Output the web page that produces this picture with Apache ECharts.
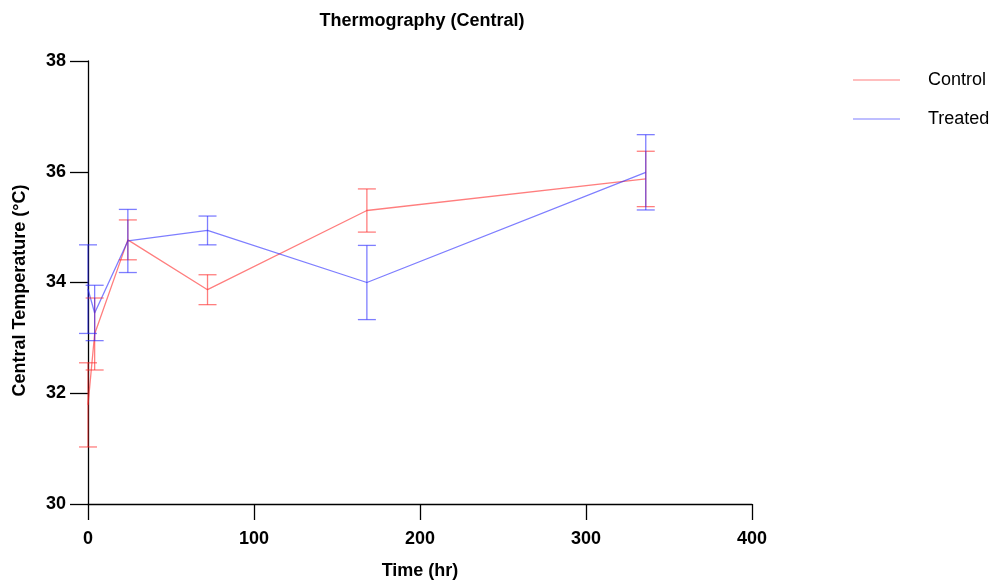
<!DOCTYPE html>
<html>
<head>
<meta charset="utf-8">
<script src="https://cdn.jsdelivr.net/npm/echarts@6/dist/echarts.min.js"></script>
<style>
  html, body { margin: 0; padding: 0; background: #fff; }
  #chart { width: 996px; height: 580px; }
</style>
</head>
<body>
<div id="chart"></div>
<script>
var times = [0, 4, 24, 72, 168, 336];
var controlMean = [31.79, 33.07, 34.77, 33.87, 35.30, 35.87];
var controlSd = [0.76, 0.65, 0.36, 0.27, 0.39, 0.50];
var treatedMean = [33.88, 33.45, 34.75, 34.94, 34.00, 35.99];
var treatedSd = [0.80, 0.50, 0.57, 0.26, 0.67, 0.68];

var red = 'rgba(255, 40, 40, 0.6)';
var blue = 'rgba(40, 40, 255, 0.6)';
var font = 'Liberation Sans, Arial, sans-serif';

var dom = document.getElementById('chart');
var myChart = echarts.init(dom, null, { renderer: 'canvas' });

function errData(mean, sd) {
  return times.map(function (t, i) { return [t, mean[i] - sd[i], mean[i] + sd[i]]; });
}

// error bar: vertical line with caps
function errRender(color) {
  return function (params, api) {
    var x = api.value(0);
    var lo = api.coord([x, api.value(1)]);
    var hi = api.coord([x, api.value(2)]);
    var w = 9;
    var st = { stroke: color, lineWidth: 1.3 };
    return {
      type: 'group',
      children: [
        { type: 'line', shape: { x1: lo[0], y1: lo[1], x2: hi[0], y2: hi[1] }, style: st },
        { type: 'line', shape: { x1: lo[0] - w, y1: lo[1], x2: lo[0] + w, y2: lo[1] }, style: st },
        { type: 'line', shape: { x1: hi[0] - w, y1: hi[1], x2: hi[0] + w, y2: hi[1] }, style: st }
      ]
    };
  };
}

var axisLabel = { color: '#000', fontFamily: font, fontWeight: 'bold', fontSize: 18 };
var nameStyle = { color: '#000', fontFamily: font, fontWeight: 'bold', fontSize: 18 };

var option = {
  animation: false,
  title: {
    text: 'Thermography (Central)',
    left: 417,
    textAlign: 'center',
    top: 7,
    textStyle: { color: '#000', fontFamily: font, fontWeight: 'bold', fontSize: 18 }
  },
  legend: {
    orient: 'vertical',
    left: 848,
    top: 66,
    itemGap: 21,
    itemWidth: 47,
    itemHeight: 1,
    icon: 'rect',
    textStyle: { color: '#000', fontFamily: font, fontSize: 18, padding: [0, 0, 0, 23] },
    data: ['Control', 'Treated']
  },
  grid: { left: 88, right: 244, top: 61, bottom: 76, outerBoundsMode: 'none' },
  xAxis: {
    type: 'value',
    min: 0,
    max: 400,
    interval: 100,
    name: 'Time (hr)',
    nameLocation: 'middle',
    nameGap: 58,
    nameTextStyle: nameStyle,
    axisLine: { show: true, onZero: false, lineStyle: { color: '#000', width: 1.3 } },
    axisTick: { show: true, length: 16, lineStyle: { color: '#000', width: 1.3 } },
    axisLabel: Object.assign({ margin: 26 }, axisLabel),
    splitLine: { show: false }
  },
  yAxis: {
    type: 'value',
    min: 30,
    max: 38,
    interval: 2,
    name: 'Central Temperature (\u00B0C)',
    nameLocation: 'middle',
    nameGap: 59,
    nameTextStyle: Object.assign({ padding: [0, 16, 0, 0] }, nameStyle),
    axisLine: { show: true, onZero: false, lineStyle: { color: '#000', width: 1.3 } },
    axisTick: { show: true, length: 18, lineStyle: { color: '#000', width: 1.3 } },
    axisLabel: Object.assign({ margin: 22 }, axisLabel),
    splitLine: { show: false }
  },
  series: [
    {
      name: 'Control',
      type: 'line',
      symbol: 'none',
      color: red,
      lineStyle: { width: 1.3, color: red },
      data: times.map(function (t, i) { return [t, controlMean[i]]; }),
      z: 3
    },
    {
      name: 'Treated',
      type: 'line',
      symbol: 'none',
      color: blue,
      lineStyle: { width: 1.3, color: blue },
      data: times.map(function (t, i) { return [t, treatedMean[i]]; }),
      z: 3
    },
    {
      name: 'Control',
      type: 'custom',
      renderItem: errRender(red),
      encode: { x: 0, y: [1, 2] },
      data: errData(controlMean, controlSd),
      z: 4
    },
    {
      name: 'Treated',
      type: 'custom',
      renderItem: errRender(blue),
      encode: { x: 0, y: [1, 2] },
      data: errData(treatedMean, treatedSd),
      z: 4
    }
  ]
};

myChart.setOption(option);
window.addEventListener('resize', myChart.resize);
</script>
</body>
</html>
